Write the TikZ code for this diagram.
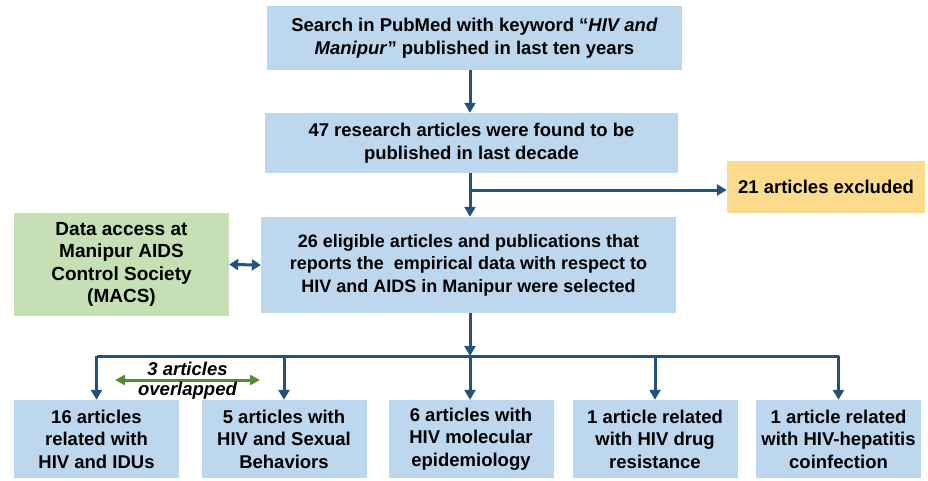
\documentclass[tikz,border=0pt]{standalone}
\usepackage{fontspec}
\setmainfont{Liberation Sans}
\usetikzlibrary{arrows.meta}
\definecolor{boxblue}{RGB}{189,215,238}
\definecolor{boxgreen}{RGB}{197,224,180}
\definecolor{boxyellow}{RGB}{252,219,140}
\definecolor{arrblue}{RGB}{36,82,128}
\definecolor{arrgreen}{RGB}{84,140,52}
\tikzset{
  >={Triangle[width=11pt,length=10pt]},
}
\tikzstyle{box}=[fill=boxblue,inner sep=0pt,align=center,font=\fontsize{18.5}{22.5}\selectfont\bfseries]
\tikzstyle{flow}=[line width=3pt,arrblue,->]

\begin{document}
\begin{tikzpicture}[x=1pt,y=-1pt]
    \useasboundingbox (0,0) rectangle (928,481);
    \node[box,minimum width=415,minimum height=64] (search) at (474.5,38)
      {Search in PubMed with keyword ``\textit{HIV and}\\ \textit{Manipur}'' published in last ten years};
    \node[box,minimum width=413,minimum height=60] (found) at (471.5,143)
      {47 research articles were found to be\\ published in last decade};
    \node[box,fill=boxyellow,minimum width=198,minimum height=52] (excl) at (826,187)
      {21 articles excluded};
    \node[box,minimum width=415,minimum height=96,font=\fontsize{18}{22.5}\selectfont\bfseries] (elig) at (468.5,265)
      {26 eligible articles and publications that\\ reports the\ \ empirical data with respect to\\ HIV and AIDS in Manipur were selected};
    \node[box,fill=boxgreen,minimum width=215,minimum height=103,font=\fontsize{19}{22.5}\selectfont\bfseries] (macs) at (121.5,264.5)
      {Data access at\\ Manipur AIDS\\ Control Society\\ (MACS)};
    \begin{scope}[every node/.style={box,minimum width=165,minimum height=78}]
      \node (idu) at (96.5,439) {16 articles\\ related with\\ HIV and IDUs};
      \node (sex) at (284,439) {5 articles with\\ HIV and Sexual\\ Behaviors};
      \node (mol) at (471,439) {6 articles with\\ HIV molecular\\ epidemiology};
      \node (drug) at (655,439) {1 article related\\ with HIV drug\\ resistance};
      \node (hep) at (838.5,439) {1 article related\\ with HIV-hepatitis\\ coinfection};
    \end{scope}
    \coordinate (bus) at (470,356);
    \coordinate (ov1) at (115,380);
    \coordinate (ov2) at (260,380);
    \begin{scope}[flow]
      \draw (search.south -| 470,0) -- (found.north -| 470,0);
      \draw (found.south -| 470,0) -- (elig.north -| 470,0);
      \draw (470,190) -- (excl.west |- 0,190);
      \draw (elig.south -| bus) -- (bus);
      \draw (bus) -- (mol.north -| bus);
      \draw[-] (bus -| idu) -- (bus -| hep);
      \draw (bus -| idu) -- (idu.north);
      \draw (bus -| sex) -- (sex.north);
      \draw (bus -| drug) -- (drug.north);
      \draw (bus -| hep) -- (hep.north);
      \draw[<->,>={Triangle[width=11pt,length=9pt]}] (macs.east) -- (elig.west);
    \end{scope}
    \draw[line width=3pt,arrgreen,<->,>={Triangle[width=10pt,length=10pt]}] (ov1) -- (ov2)
      node[midway,above=-1pt,font=\fontsize{18.5}{20}\selectfont\bfseries\itshape,text=black] (ovtop) {3 articles}
      node[midway,below=-3pt,font=\fontsize{18.5}{20}\selectfont\bfseries\itshape,text=black] (ovbot) {overlapped};
\end{tikzpicture}
\end{document}
